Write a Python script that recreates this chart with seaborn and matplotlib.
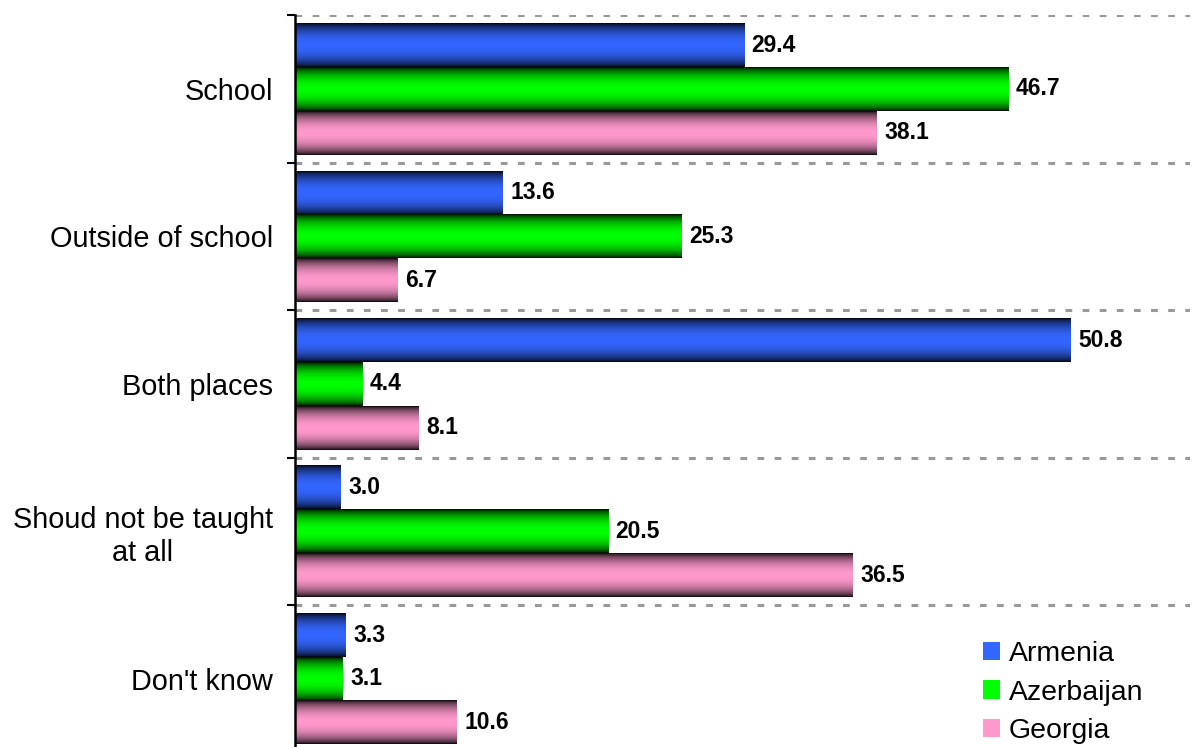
import numpy as np
import pandas as pd
import matplotlib
matplotlib.use("Agg")
import matplotlib.pyplot as plt
import seaborn as sns
from matplotlib.colors import to_rgb

categories = ["School", "Outside of school", "Both places",
              "Shoud not be taught\nat all", "Don't know"]
countries = ["Armenia", "Azerbaijan", "Georgia"]
armenia = [29.4, 13.6, 50.8, 3.0, 3.3]
azerbaijan = [46.7, 25.3, 4.4, 20.5, 3.1]
georgia = [38.1, 6.7, 8.1, 36.5, 10.6]
colors = ["#3366ff", "#00ff00", "#ff99cc"]

df = pd.DataFrame({
    "category": categories * 3,
    "country": [c for c in countries for _ in categories],
    "value": armenia + azerbaijan + georgia,
})

sns.set_style("white")
plt.rcParams["font.family"] = ["Liberation Sans", "DejaVu Sans"]
plt.rcParams["text.color"] = "black"
plt.rcParams["ytick.labelcolor"] = "black"

fig = plt.figure(figsize=(11.97, 7.47), dpi=100)
ax = fig.add_axes([0.2464, -0.0074, 0.7477, 0.987])

sns.barplot(data=df, y="category", x="value", hue="country",
            hue_order=countries, palette=colors, orient="h",
            width=0.89, ax=ax, legend=True, saturation=1)

# shaded look: dark at top and bottom edge of each bar
t = np.linspace(0, 1, 96)
shade = np.clip(np.sin(np.pi * t) ** 0.6, 0.03, 1.0)
for cont, col in zip(ax.containers, colors):
    rgb = np.array(to_rgb(col))
    grad = (shade[:, None] * rgb[None, :])[:, None, :]
    for bar in cont:
        x0, y0 = bar.get_x(), bar.get_y()
        w, h = bar.get_width(), bar.get_height()
        ax.imshow(grad, extent=[x0, x0 + w, y0 + h, y0], aspect="auto",
                  interpolation="bilinear", zorder=3)
    ax.bar_label(cont, fmt="%.1f", padding=5.5, fontsize=16.5,
                 fontweight="bold", color="black", zorder=4)

ax.set_xlim(0, 58.6)
ax.set_ylim(len(categories) - 0.5, -0.5)
ax.set_xlabel("")
ax.set_ylabel("")
ax.set_xticks([])

ax.set_yticks(range(len(categories)))
ax.set_yticklabels(categories, fontsize=20.8, multialignment="center")
ax.set_yticks(np.arange(-0.5, len(categories), 1), minor=True)
ax.tick_params(axis="y", which="major", left=False, length=0, pad=16)
ax.tick_params(axis="y", which="minor", left=True, length=6, width=1.5,
               color="black", direction="out")
ax.grid(False)
ax.grid(which="minor", axis="y", color="#999999",
        linestyle=(0, (2.2, 3.4)), linewidth=2.2)
ax.set_axisbelow(True)

for side in ["top", "right", "bottom"]:
    ax.spines[side].set_visible(False)
ax.spines["left"].set_color("black")
ax.spines["left"].set_linewidth(1.8)
ax.spines["left"].set_zorder(5)

handles, labels = ax.get_legend_handles_labels()
for hnd in handles:
    hnd.set_edgecolor("none")
ax.legend(handles, labels, loc="lower right", bbox_to_anchor=(0.964, -0.008),
          frameon=False, fontsize=20.5, handlelength=0.63,
          handleheight=0.63, handletextpad=0.3, labelspacing=0.44,
          borderaxespad=0.1)

fig.savefig("out.png", dpi=100)
